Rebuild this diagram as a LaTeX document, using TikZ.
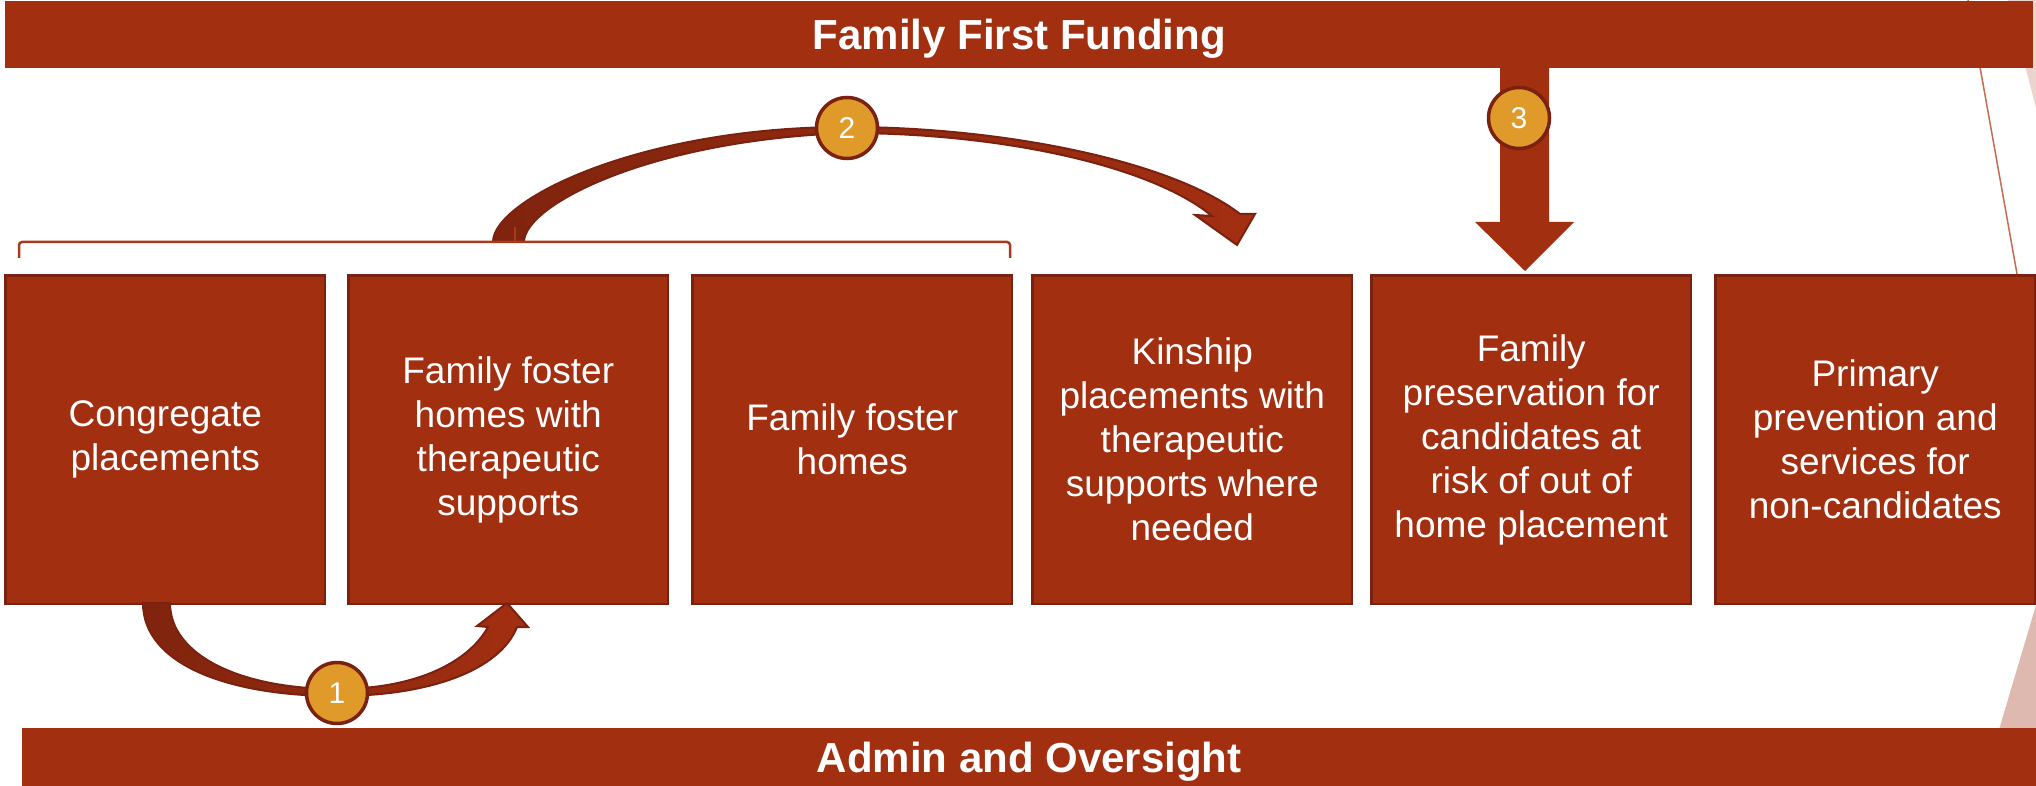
\documentclass[tikz,border=0pt]{standalone}
\usepackage{fontspec}
\setmainfont{Liberation Sans}
\definecolor{mainred}{RGB}{163,47,17}
\definecolor{darkborder}{RGB}{122,33,16}
\definecolor{arrowdark}{RGB}{128,36,14}
\definecolor{badgeorange}{RGB}{224,154,42}
\definecolor{bracketred}{RGB}{170,56,28}
\definecolor{thinred}{RGB}{196,107,82}
\definecolor{palepink}{RGB}{221,185,175}
\definecolor{palepinklight}{RGB}{235,212,205}
\begin{document}
\begin{tikzpicture}[x=1pt,y=-1pt,
  box/.style={draw=darkborder, line width=2.5pt, fill=mainred, text=white, align=center,
    minimum width=319.5pt, minimum height=328.5pt, anchor=north west, inner sep=0pt,
    font=\fontsize{37}{44}\selectfont},
  bar/.style={fill=mainred, text=white, anchor=north west, inner sep=0pt,
    text height=30pt, text depth=0pt, font=\bfseries\fontsize{42}{50}\selectfont},
  badge/.style={circle, fill=badgeorange, draw=darkborder, line width=3.5pt,
    minimum size=61pt, inner sep=0pt, text=white, font=\fontsize{30}{36}\selectfont},
  curvedarrow/.style={draw=darkborder, line width=2pt, line join=miter,
    left color=arrowdark, right color=mainred},
  bracketline/.style={draw=bracketred, line width=2.5pt, rounded corners=3pt},
  thinline/.style={draw=thinred, line width=1.5pt}
]
\useasboundingbox (0,0) rectangle (2036,786);

% background decoration
\fill[palepinklight] (2008,0) -- (2036,0) -- (2036,108) -- cycle;
\fill[palepink] (1990,760) -- (2036,605) -- (2036,760) -- cycle;
\draw[thinline] (1968,0) -- (2017,274);

% bars
\node[bar, minimum width=2028pt, minimum height=67pt] (top) at (5,1) {Family First Funding};
\node[bar, minimum width=2014pt, minimum height=58pt] (bottom) at (22,728) {Admin and Oversight};

% block arrow 3
\fill[mainred] (1500,66) -- (1549,66) -- (1549,222) -- (1574,222) -- (1525,271)
  -- (1475,222) -- (1500,222) -- cycle;

% boxes
\node[box] (b1) at (4.25,274.25) {Congregate\\placements};
\node[box] (b2) at (347.25,274.25) {Family foster\\homes with\\therapeutic\\supports};
\node[box] (b3) at (691.25,274.25) {Family foster\\homes};
\node[box] (b4) at (1031.25,274.25) {Kinship\\placements with\\therapeutic\\supports where\\needed};
\node[box] (b5) at (1370.25,274.25) {Family\\preservation for\\candidates at\\risk of out of\\home placement};
\node[box] (b6) at (1714.25,274.25) {Primary\\prevention and\\services for\\non-candidates};

% curved arrow 1
\path[curvedarrow] (143,603) .. controls (143,665) and (230,696) .. (337,696)
  .. controls (430,696) and (500,670) .. (517,627) -- (528,627) -- (507,603)
  -- (477,626) -- (488,627) .. controls (470,660) and (420,689) .. (337,689)
  .. controls (240,689) and (170,655) .. (170,603) -- cycle;

% curved arrow 2
\path[curvedarrow] (493,242) .. controls (493,200) and (640,127) .. (847,127)
  .. controls (1000,127) and (1170,160) .. (1240,214) -- (1255,214) -- (1237,245)
  -- (1195,215) -- (1212,216) .. controls (1150,165) and (1000,133) .. (847,133)
  .. controls (650,140) and (524,205) .. (524,242) -- cycle;

% bracket
\draw[bracketline] (19,258) -- (19,242) -- (1010,242) -- (1010,258);
\draw[draw=bracketred, line width=2pt] (515,242) -- (515,227);

% badges
\node[badge] (c1) at (337,693) {1};
\node[badge] (c2) at (847,128) {2};
\node[badge] (c3) at (1519,118) {3};
\end{tikzpicture}
\end{document}
